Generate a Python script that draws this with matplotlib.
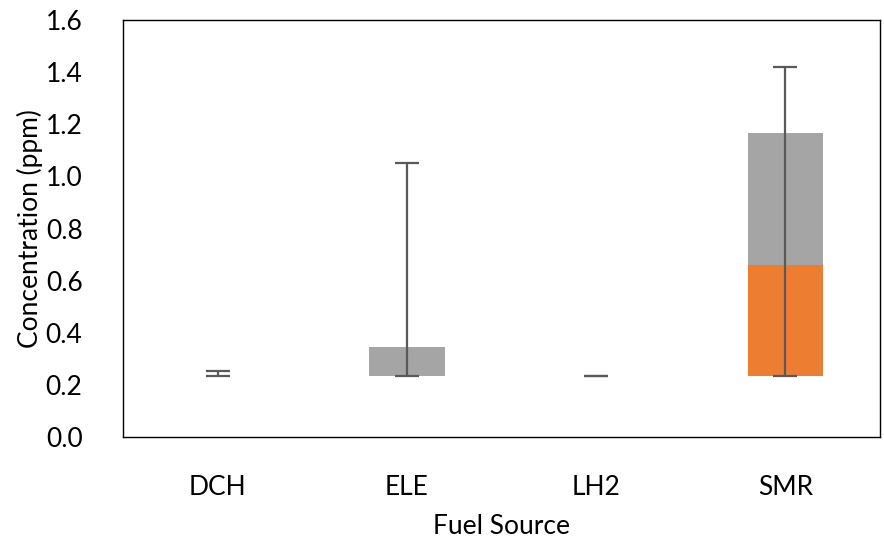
import matplotlib.pyplot as plt
import numpy as np

plt.rcParams['font.family'] = ['Lato', 'DejaVu Sans']

sources = ['DCH', 'ELE', 'LH2', 'SMR']
q1 = np.array([0.235, 0.235, 0.235, 0.235])
median = np.array([0.235, 0.235, 0.235, 0.66])
q3 = np.array([0.235, 0.345, 0.235, 1.166])
lo = np.array([0.235, 0.235, 0.235, 0.235])
hi = np.array([0.252, 1.051, 0.235, 1.419])

fig = plt.figure(figsize=(8.84, 5.41), dpi=100)
ax = fig.add_axes([0.139, 0.192, 0.8565, 0.771])

x = np.arange(len(sources))
w = 0.4
ax.bar(x, median - q1, w, bottom=q1, color='#ED7D31', zorder=2)
ax.bar(x, q3 - median, w, bottom=median, color='#A5A5A5', zorder=2)
ax.errorbar(x, q1, yerr=[q1 - lo, hi - q1], fmt='none', ecolor='#595959',
            elinewidth=1.6, capsize=8.5, capthick=1.6, zorder=3)

ax.set_xlim(-0.5, 3.5)
ax.set_ylim(0, 1.6)
ax.set_yticks(np.arange(0, 1.61, 0.2))
ax.set_yticklabels([f'{v:.1f}' for v in np.arange(0, 1.61, 0.2)])
ax.set_xticks(x)
ax.set_xticklabels(sources)
ax.tick_params(length=0, labelsize=19, colors='black')
ax.tick_params(axis='x', pad=27)
ax.tick_params(axis='y', pad=29)
for s in ax.spines.values():
    s.set_color('black')
    s.set_linewidth(1)
ax.set_xlabel('Fuel Source', fontsize=19, labelpad=10)
ax.set_ylabel('Concentration (ppm)', fontsize=19, labelpad=2)

plt.savefig('out.png', dpi=100)
